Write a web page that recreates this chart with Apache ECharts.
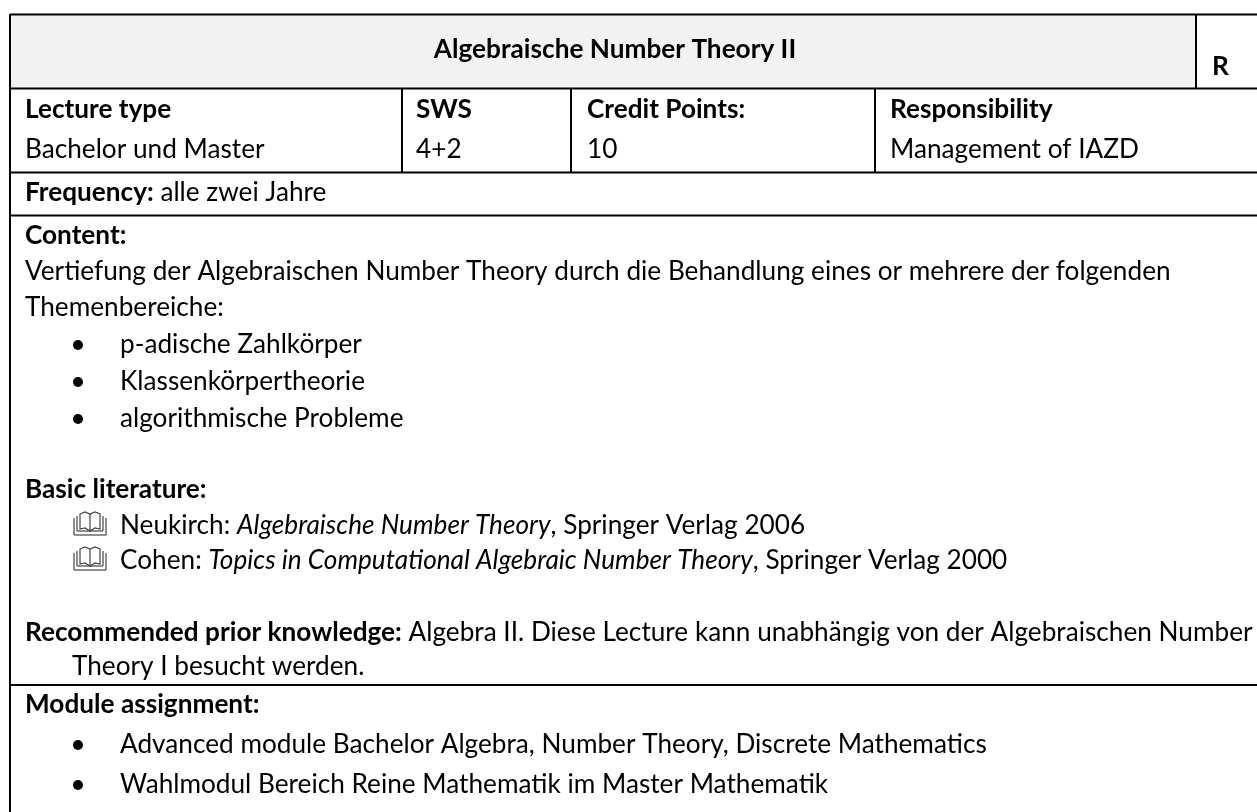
<!DOCTYPE html>
<html>
<head>
<meta charset="utf-8">
<script src="https://cdn.jsdelivr.net/npm/echarts@6/dist/echarts.min.js"></script>
<style>
  html, body { margin: 0; padding: 0; background: #fff; }
  #main { width: 1257px; height: 812px; }
</style>
</head>
<body>
<div id="main"></div>
<script>
// texts of the sheet, {b|..} bold and {i|..} italic runs
const title = '{b|Algebraische Number Theory II}'
const corner = '{b|R}'
const headRow = ['Lecture type', 'SWS', 'Credit Points:', 'Responsibility']
const valueRow = ['Bachelor und Master', '4+2', '10', 'Management of IAZD']
const frequency = '{b|Frequency:} alle zwei Jahre'
const contentLines = [
  '{b|Content:}',
  'Vertiefung der Algebraischen Number Theory durch die Behandlung eines or mehrere der folgenden',
  'Themenbereiche:'
]
const contentBullets = ['p-adische Zahlkörper', 'Klassenkörpertheorie', 'algorithmische Probleme']
const literatureHead = '{b|Basic literature:}'
const literature = [
  'Neukirch: {i|Algebraische Number Theory}, Springer Verlag 2006',
  'Cohen: {i|Topics in Computational Algebraic Number Theory}, Springer Verlag 2000'
]
const priorLines = [
  '{b|Recommended prior knowledge:} Algebra II. Diese Lecture kann unabhängig von der Algebraischen Number',
  'Theory I besucht werden.'
]
const moduleHead = '{b|Module assignment:}'
const moduleBullets = [
  'Advanced module Bachelor Algebra, Number Theory, Discrete Mathematics',
  'Wahlmodul Bereich Reine Mathematik im Master Mathematik'
]

const FONT = 'Lato'
const FONT_SIZE = 27
const SCALE_X = 0.97
const INK = '#000'
const els = []

function addText(str, x, baseline, align) {
  els.push({
    type: 'text',
    x: x,
    y: baseline - FONT_SIZE * 0.33,
    scaleX: SCALE_X,
    z: 5,
    style: {
      text: str,
      x: 0,
      y: 0,
      fill: INK,
      fontFamily: FONT,
      fontSize: FONT_SIZE,
      align: align || 'left',
      verticalAlign: 'middle',
      rich: {
        b: { fontWeight: 'bold', fontSize: FONT_SIZE, fontFamily: FONT, fill: INK },
        i: { fontStyle: 'italic', fontSize: FONT_SIZE, fontFamily: FONT, fill: INK }
      }
    }
  })
}

function addLine(x1, y1, x2, y2) {
  els.push({
    type: 'line',
    z: 3,
    shape: { x1, y1, x2, y2 },
    style: { stroke: INK, lineWidth: 2 }
  })
}

function addBullet(x, baseline) {
  els.push({ type: 'circle', z: 4, shape: { cx: x, cy: baseline - 8, r: 5 }, style: { fill: INK } })
}

function addThin(x1, y1, x2, y2) {
  els.push({ type: 'line', z: 4, shape: { x1, y1, x2, y2 }, style: { stroke: '#444', lineWidth: 1.2 } })
}

// open book symbol in front of the literature entries
function addBook(x, baseline) {
  const top = baseline - 22
  const bot = baseline + 1
  const mid = x + 16
  els.push({
    type: 'polygon', z: 4,
    shape: { points: [[x + 6, top + 2], [x + 11, top], [mid, top + 2], [x + 21, top], [x + 26, top + 2], [x + 26, bot - 6], [x + 21, bot - 7], [mid, bot - 4], [x + 11, bot - 7], [x + 6, bot - 6]] },
    style: { stroke: '#444', lineWidth: 1.2, fill: '#fff' }
  })
  addThin(mid, top + 2, mid, bot - 3)
  addThin(x + 3, top + 4, x + 3, bot - 4)
  addThin(x + 29, top + 4, x + 29, bot - 4)
  addThin(x, top + 6, x, bot)
  addThin(x + 32, top + 6, x + 32, bot)
  addThin(x, bot, x + 32, bot)
  addThin(x + 3, bot - 4, x + 29, bot - 4)
}

// header fill
els.push({ type: 'rect', z: 1, shape: { x: 10, y: 14, width: 1186, height: 75 }, style: { fill: '#f2f2f2' } })

// grid lines
const left = 10
const right = 1257
;[14.5, 88.5, 172.5, 215.5, 685].forEach(y => addLine(left, y, right, y))
addLine(left, 14, left, 812)
addLine(1196, 14, 1196, 89)
;[402, 571, 875].forEach(x => addLine(x, 89, x, 173))

// cells
addText(title, 615, 58, 'center')
addText(corner, 1212, 75)
const colX = [25, 416, 587, 890]
headRow.forEach((t, i) => addText('{b|' + t + '}', colX[i], 118))
valueRow.forEach((t, i) => addText(t, colX[i], 158.5))
addText(frequency, 25, 201.5)

const contentY = [244, 280, 316]
contentLines.forEach((t, i) => addText(t, 25, contentY[i]))
const contentBulletY = [353, 390, 427]
contentBullets.forEach((t, i) => { addBullet(78, contentBulletY[i]); addText(t, 120, contentBulletY[i]) })

addText(literatureHead, 25, 498)
const literatureY = [534, 569]
literature.forEach((t, i) => { addBook(74, literatureY[i]); addText(t, 120, literatureY[i]) })

addText(priorLines[0], 25, 641)
addText(priorLines[1], 72, 675)

addText(moduleHead, 25, 713)
const moduleY = [753, 793]
moduleBullets.forEach((t, i) => { addBullet(78, moduleY[i]); addText(t, 120, moduleY[i]) })

const chart = echarts.init(document.getElementById('main'))
chart.setOption({
  backgroundColor: '#fff',
  animation: false,
  graphic: { elements: els }
})
</script>
</body>
</html>
